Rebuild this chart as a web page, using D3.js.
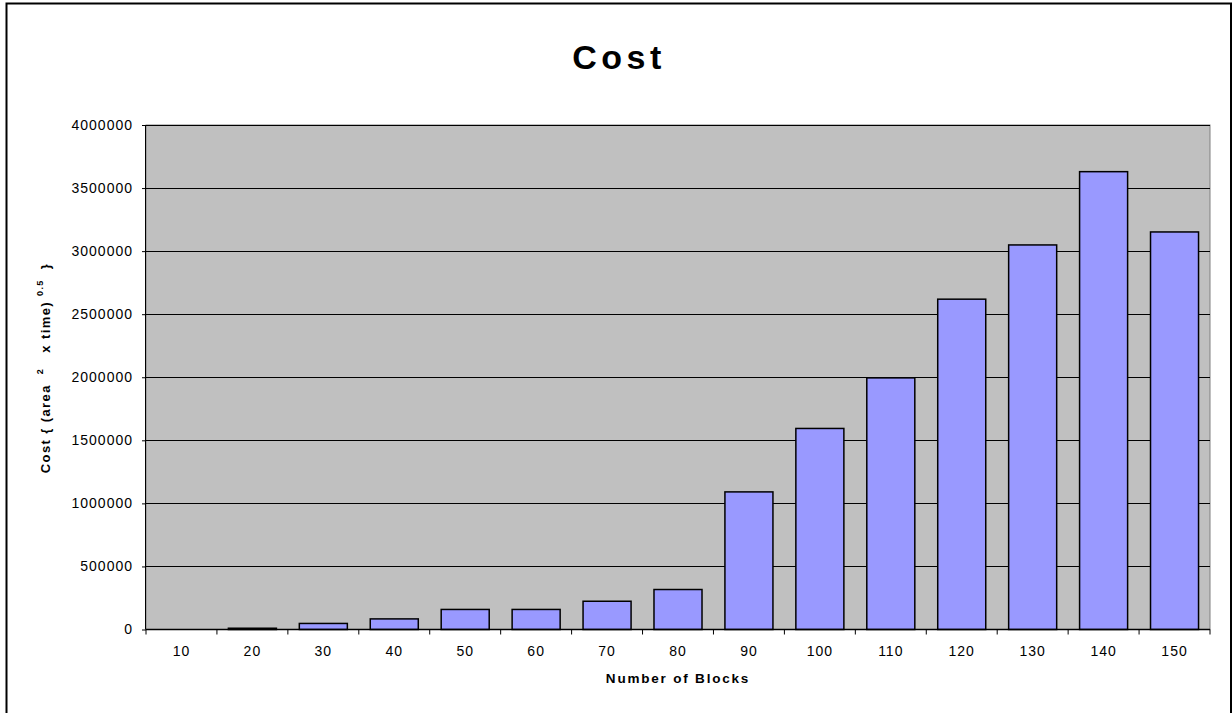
<!DOCTYPE html>
<html>
<head>
<meta charset="utf-8">
<script src="https://cdn.jsdelivr.net/npm/d3@7"></script>
<style>
  html, body { margin: 0; padding: 0; background: #fff; }
  svg { display: block; font-family: Arial, "Liberation Sans", sans-serif; }
</style>
</head>
<body>
<svg id="chart" width="1232" height="713"></svg>
<script>
const categories = ["10","20","30","40","50","60","70","80","90","100","110","120","130","140","150"];
const costValues = [0, 10000, 48000, 84000, 159000, 159000, 224000, 317000, 1091000, 1594000, 1995000, 2619000, 3049000, 3630000, 3152000];
const yTickValues = [0, 500000, 1000000, 1500000, 2000000, 2500000, 3000000, 3500000, 4000000];

const svg = d3.select("#chart");
const plot = { left: 146, right: 1210, top: 125, bottom: 629.5 };

// outer border
svg.append("rect").attr("x", 6.5).attr("y", 3.5).attr("width", 1224.5).attr("height", 760)
  .attr("fill", "#fff").attr("stroke", "#000").attr("stroke-width", 2);

const x = d3.scaleBand().domain(categories).range([plot.left, plot.right])
  .paddingInner(0.323).paddingOuter(0.1615);
const y = d3.scaleLinear().domain([0, 4000000]).range([plot.bottom, plot.top]);

// plot background
svg.append("rect").attr("x", plot.left).attr("y", plot.top)
  .attr("width", plot.right - plot.left).attr("height", plot.bottom - plot.top)
  .attr("fill", "#c0c0c0").attr("stroke", "#808080").attr("stroke-width", 1);

// gridlines
svg.append("g").selectAll("line").data(yTickValues.filter(d => d > 0)).join("line")
  .attr("x1", plot.left).attr("x2", plot.right)
  .attr("y1", d => Math.round(y(d)) + 0.5).attr("y2", d => Math.round(y(d)) + 0.5)
  .attr("stroke", "#000").attr("stroke-width", 1);

// bars
svg.append("g").selectAll("rect").data(categories).join("rect")
  .attr("x", d => x(d))
  .attr("y", (d, i) => y(costValues[i]))
  .attr("width", x.bandwidth())
  .attr("height", (d, i) => plot.bottom - y(costValues[i]))
  .attr("fill", "#9999ff").attr("stroke", "#000").attr("stroke-width", 1.5);

// y axis
const yAxis = d3.axisLeft(y).tickValues(yTickValues).tickSize(4).tickPadding(9)
  .tickFormat(d3.format("d"));
const gy = svg.append("g").attr("transform", `translate(${plot.left},0)`).call(yAxis);
gy.select(".domain").attr("stroke", "#000").attr("d", `M-0.5,${plot.top}V${plot.bottom}`);
gy.selectAll(".tick line").attr("stroke", "#000");
gy.selectAll(".tick text").attr("font-size", 14).attr("letter-spacing", "1px")
  .attr("fill", "#000").attr("font-family", "Arial, 'Liberation Sans', sans-serif");

// x axis (ticks at category boundaries)
const boundaries = d3.range(categories.length + 1).map(i => plot.left + i * x.step());
const gx = svg.append("g");
gx.append("line").attr("x1", plot.left).attr("x2", plot.right)
  .attr("y1", plot.bottom).attr("y2", plot.bottom).attr("stroke", "#000").attr("stroke-width", 1.5);
gx.selectAll("line.tk").data(boundaries).join("line").attr("class", "tk")
  .attr("x1", d => d).attr("x2", d => d)
  .attr("y1", plot.bottom).attr("y2", plot.bottom + 5)
  .attr("stroke", "#000");
gx.selectAll("text").data(categories).join("text")
  .attr("x", d => x(d) + x.bandwidth() / 2)
  .attr("y", 656)
  .attr("text-anchor", "middle")
  .attr("font-size", 14).attr("letter-spacing", "1px")
  .text(d => d);

// title
svg.append("text").attr("x", 619).attr("y", 69).attr("text-anchor", "middle")
  .attr("font-size", 34).attr("font-weight", "bold").attr("letter-spacing", "4.5px")
  .text("Cost");

// x axis title
svg.append("text").attr("x", 678).attr("y", 683).attr("text-anchor", "middle")
  .attr("font-size", 13.5).attr("font-weight", "bold").attr("letter-spacing", "1.8px")
  .text("Number of Blocks");

// y axis title with superscripts
const yt = svg.append("text")
  .attr("transform", "translate(50,368) rotate(-90)")
  .attr("text-anchor", "middle")
  .attr("font-size", 13).attr("font-weight", "bold").attr("letter-spacing", "1.4px")
  .attr("xml:space", "preserve").style("white-space", "pre");
yt.append("tspan").text("Cost { (area  ");
yt.append("tspan").attr("font-size", 9).attr("dy", -7).text("2");
yt.append("tspan").attr("dy", 7).text("   x time) ");
yt.append("tspan").attr("font-size", 9).attr("dy", -7).text("0.5");
yt.append("tspan").attr("dy", 7).text("  }");
</script>
</body>
</html>
